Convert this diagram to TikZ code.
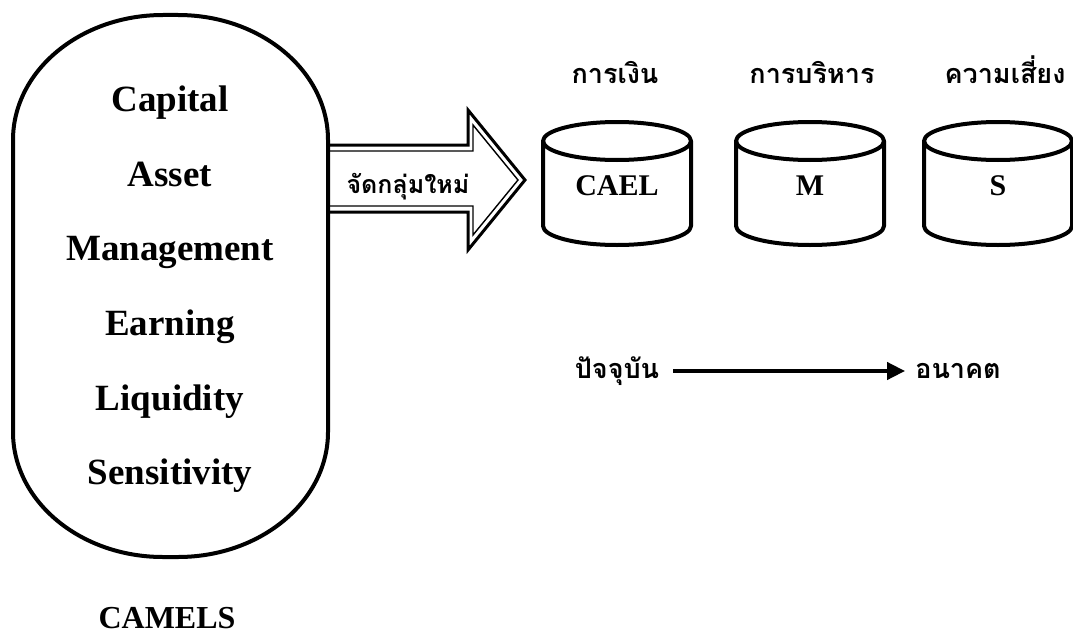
\documentclass[tikz,border=0pt]{standalone}
\usepackage{fontspec}
\setmainfont{Liberation Serif}
\newfontfamily\thaifont[Script=Thai]{Loma}
\usetikzlibrary{arrows.meta}

\tikzset{
  heavy/.style={line width=4pt, line join=round},
  camel/.style={font=\bfseries\fontsize{37}{40}\selectfont, anchor=base, inner sep=0pt},
  drumtext/.style={font=\bfseries\fontsize{30}{34}\selectfont, anchor=base, inner sep=0pt},
  thlabel/.style={font=\thaifont\bfseries\fontsize{27}{30}\selectfont, anchor=base, inner sep=0pt,
                  text height=20pt, text depth=6pt},
  drum/.pic={
    \draw[heavy] (-74,0) -- (-74,85) arc[start angle=180, end angle=0, x radius=74, y radius=19] -- (74,0);
    \draw[heavy] (0,0) ellipse[x radius=74, y radius=19];
  },
  timeline/.style={line width=4pt, -{Triangle[length=18pt,width=17pt]}},
}

\begin{document}
\begin{tikzpicture}[x=1pt,y=-1pt]
\useasboundingbox (0,0) rectangle (1073,634);

% CAMELS capsule
\draw[heavy] (13,140) arc[start angle=180, end angle=270, x radius=150, y radius=125]
  -- (178,15) arc[start angle=270, end angle=360, x radius=150, y radius=125]
  -- (328,432) arc[start angle=0, end angle=90, x radius=150, y radius=125]
  -- (163,557) arc[start angle=90, end angle=180, x radius=150, y radius=125]
  -- cycle;

\node[camel] (cap) at (170,111) {Capital};
\node[camel] (ast) at (170,186) {Asset};
\node[camel] (mgt) at (170,260) {Management};
\node[camel] (ern) at (170,335) {Earning};
\node[camel] (liq) at (170,410) {Liquidity};
\node[camel] (sen) at (170,484) {Sensitivity};
\node[font=\bfseries\fontsize{32}{36}\selectfont, anchor=base, inner sep=0pt] (camels) at (167,628) {CAMELS};

% regrouping arrow (double outline)
\draw[line width=3pt, line join=miter] (328,145) -- (468,145) -- (468,110) -- (525,180)
  -- (468,250) -- (468,212) -- (328,212);
\draw[line width=1.4pt, line join=miter] (328,151) -- (473,151) -- (473,125) -- (518,180)
  -- (473,235) -- (473,206) -- (328,206);
\node[thlabel, font=\thaifont\bfseries\fontsize{25}{30}\selectfont] (regroup) at (408,193) {จัดกลุ่มใหม่};

% three drums
\pic at (617,141) {drum};
\pic at (810,141) {drum};
\pic at (998,141) {drum};
\node[drumtext] (cael) at (617,195) {CAEL};
\node[drumtext] (m) at (810,195) {M};
\node[drumtext] (s) at (998,195) {S};

\node[thlabel] (fin) at (615,84) {การเงิน};
\node[thlabel] (adm) at (812,84) {การบริหาร};
\node[thlabel] (risk) at (1005,84) {ความเสี่ยง};

% time axis
\node[thlabel] (now) at (617,378) {ปัจจุบัน};
\node[thlabel] (future) at (958,378) {อนาคต};
\draw[timeline, shorten <=14pt, shorten >=10pt] (now.east) -- (future.west);
\end{tikzpicture}
\end{document}
